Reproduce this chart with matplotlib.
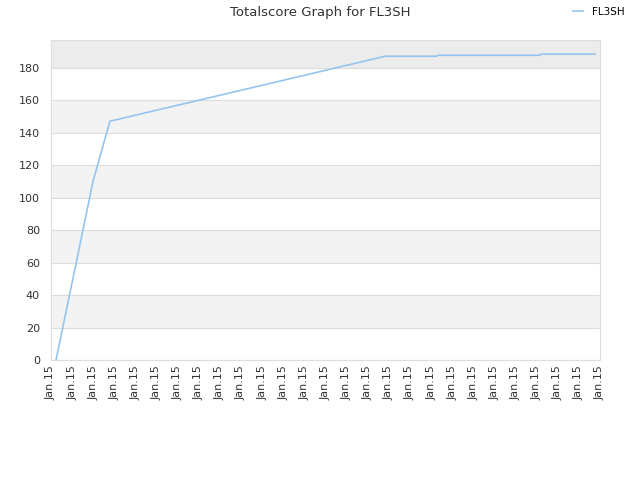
import matplotlib
matplotlib.use("Agg")
import matplotlib.pyplot as plt

# data (x in tick units)
xs = [0.24, 1.99, 2.79, 15.82, 18.28, 18.3, 23.16, 23.2, 25.76]
scores = [0, 110, 147, 187, 187, 187.6, 187.6, 188.3, 188.3]
tick_labels = ["Jan.15"] * 27

fig = plt.figure(figsize=(6.4, 4.8), dpi=100)
ax = fig.add_axes([51 / 640, 120 / 480, 549 / 640, 320 / 480])

ymax = 197
for lo in range(0, 180, 20):
    if (lo // 20) % 2 == 1:
        ax.axhspan(lo, lo + 20, color="#f3f3f3", zorder=0, lw=0)
ax.axhspan(180, ymax, color="#ececec", zorder=0, lw=0)

ax.plot(xs, scores, color="#95c4f0", lw=1.2, label="FL3SH", zorder=3)

ax.set_xlim(0, 26)
ax.set_ylim(0, ymax)
ax.set_xticks(range(len(tick_labels)))
ax.set_xticklabels(tick_labels, rotation=90, fontsize=8, color="#333333")
ax.set_yticks(range(0, 181, 20))
ax.tick_params(axis="y", labelsize=8, colors="#333333", length=0, pad=8)
ax.tick_params(axis="x", length=0, pad=4)
ax.grid(axis="y", color="#dddddd", lw=0.8, zorder=1)
ax.set_axisbelow(True)
for s in ax.spines.values():
    s.set_color("#dddddd")

fig.text(0.5, 0.988, "Totalscore Graph for FL3SH", ha="center", va="top",
         fontsize=9.5, color="#333333")
fig.legend(loc="upper right", bbox_to_anchor=(0.99, 1.005), frameon=False,
           fontsize=7.5, handlelength=1.0)

fig.savefig("out.png")
